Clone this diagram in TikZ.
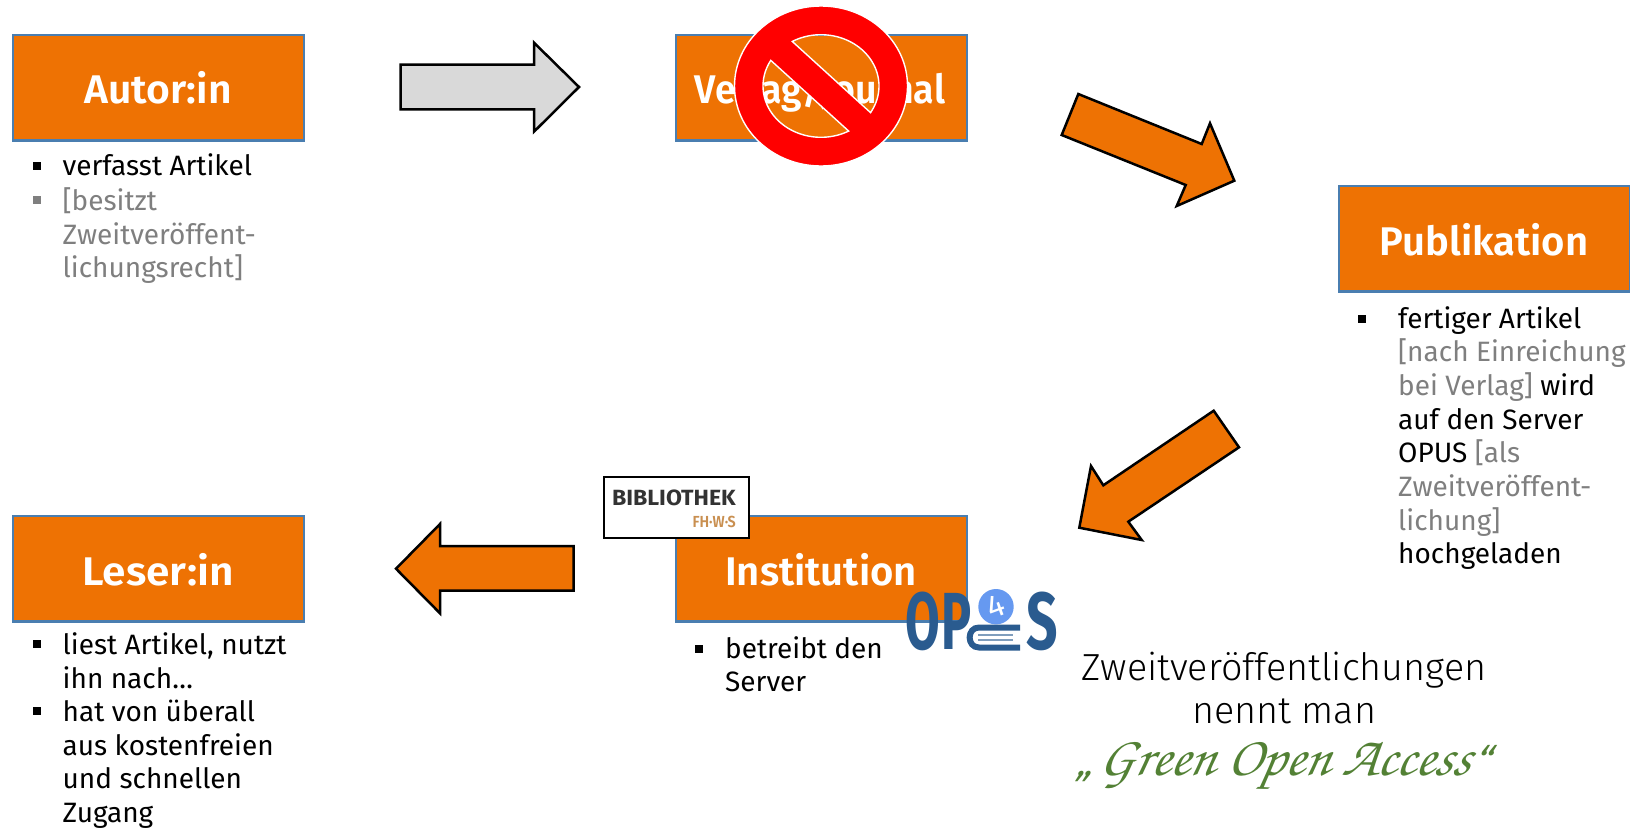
\documentclass[tikz,border=0pt]{standalone}
\usepackage{fontspec}
\setmainfont{Fira Sans}
\newfontfamily\firasemi{Fira Sans SemiBold}
\newfontfamily\firalight{Fira Sans Light}
\definecolor{boxorange}{HTML}{EE7203}
\definecolor{boxblue}{HTML}{4A7EB0}
\definecolor{arrowgray}{HTML}{D9D9D9}
\definecolor{mutetext}{HTML}{7F7F7F}
\definecolor{greenoa}{HTML}{538135}
\definecolor{opusblue}{HTML}{2A5B8F}
\definecolor{opuslight}{HTML}{6699F0}
\definecolor{fhws}{HTML}{C98F50}
\newcommand{\pxfont}[1]{\fontsize{#1}{#1}\selectfont}
\tikzset{
  rolebox/.style={draw=boxblue,line width=2.5pt,fill=boxorange,minimum width=291pt,minimum height=105.5pt,inner sep=0pt,outer sep=0pt,anchor=north west},
  boxtitle/.style={text=white,anchor=base,inner sep=0pt,font=\pxfont{40}\firasemi},
  line/.style={anchor=base west,inner sep=0pt,font=\pxfont{28}},
  muted/.style={line,text=mutetext},
  bul/.style={fill=black,inner sep=0pt,minimum size=8pt,anchor=center},
  blockarrow/.style={draw=black,line width=2.5pt,miter limit=10,line join=miter,fill=boxorange},
}
\begin{document}
\begin{tikzpicture}[x=1pt,y=-1pt]
\useasboundingbox (0,0) rectangle (1630,828);
% boxes
\node[rolebox] (autor) at (13.2,35.2) {};
\node[rolebox] (verlag) at (676.2,35.2) {};
\node[rolebox] (publ) at (1339,186.2) {};
\node[rolebox] (inst) at (676.2,516.2) {};
\node[rolebox] (leser) at (13.2,516.2) {};
\node[boxtitle,xscale=1.02] (tautor) at (158,103) {Autor:in};
\node[boxtitle,xscale=.94] (tverlag) at (820,103) {Verlag/Journal};
\node[boxtitle] (tpubl) at (1484,255) {Publikation};
\node[boxtitle] (tinst) at (821,585) {Institution};
\node[boxtitle,xscale=1.06] (tleser) at (158,585) {Leser:in};
% arrows
\draw[blockarrow,fill=arrowgray] (400.7,64.7) -- (534,64.7) -- (534,42.7) -- (579,87) -- (534,131.7) -- (534,109.3) -- (400.7,109.3) -- cycle;
\draw[blockarrow] (1078.3,94) -- (1061.7,135) -- (1185.7,185) -- (1176.7,206) -- (1234.3,180.7) -- (1210,123.3) -- (1201.7,144) -- cycle;
\draw[blockarrow] (1213.7,410.7) -- (1239,447.3) -- (1128.3,521.7) -- (1141.7,540) -- (1079.3,527.7) -- (1091,466) -- (1103.3,485.3) -- cycle;
\draw[blockarrow] (396,568.7) -- (440,524) -- (440,546) -- (573.7,546) -- (573.7,590.7) -- (440,590.7) -- (440,613.3) -- cycle;
% no symbol
\path[fill=red,even odd rule,draw=white,line width=1.4pt,line join=miter]
  (821,86) ellipse [x radius=86.5,y radius=80]
  plot[domain=-119.7:31.3,samples=50] ({821+58*cos(\x)},{86+51.3*sin(\x)}) -- cycle
  plot[domain=61.5:210,samples=50] ({821+58*cos(\x)},{86+51.3*sin(\x)}) -- cycle;
% Autor text
\node[bul] (b1) at (37,165.5) {};
\node[line] (a1) at (62.5,175.5) {verfasst Artikel};
\node[bul,fill=mutetext] (b2) at (37,199.5) {};
\node[muted] (a2) at (62.5,210) {[besitzt};
\node[muted] (a3) at (62.5,244) {Zweitveröffent-};
\node[muted] (a4) at (62.5,277.5) {lichungsrecht]};
% Publikation text
\node[bul] (b3) at (1361.5,318.5) {};
\node[line] (p1) at (1398,328) {fertiger Artikel};
\node[muted] (p2) at (1398,361.7) {[nach Einreichung};
\node[muted] (p3) at (1398,395.4) {bei Verlag] \textcolor{black}{wird}};
\node[line] (p4) at (1398,429.1) {auf den Server};
\node[line] (p5) at (1398,462.8) {OPUS \textcolor{mutetext}{[als}};
\node[muted] (p6) at (1398,496.5) {Zweitveröffent-};
\node[muted] (p7) at (1398,530.2) {lichung]};
\node[line] (p8) at (1398,563.9) {hochgeladen};
% Institution text
\node[bul] (b4) at (699,649) {};
\node[line] (i1) at (725,658.2) {betreibt den};
\node[line] (i2) at (725,691.5) {Server};
% Leser text
\node[bul] (b5) at (37,644) {};
\node[line] (l1) at (62.5,654) {liest Artikel, nutzt};
\node[line] (l2) at (62.5,688.3) {ihn nach…};
\node[bul] (b6) at (37,711) {};
\node[line] (l3) at (62.5,721.7) {hat von überall};
\node[line] (l4) at (62.5,755) {aus kostenfreien};
\node[line] (l5) at (62.5,788.7) {und schnellen};
\node[line] (l6) at (62.5,822.4) {Zugang};
% Bibliothek logo
\node[draw=black,line width=1.6pt,fill=white,minimum width=145pt,minimum height=61pt,inner sep=0pt,outer sep=0pt,anchor=north west] (biblogo) at (603.8,477) {};
\node[anchor=base east,inner sep=0pt,text=black!80,font=\pxfont{22}\bfseries,xscale=1.05] (bibt) at (736,505) {BIBLIOTHEK};
\node[anchor=base east,inner sep=0pt,text=fhws,font=\pxfont{16}\firasemi,xscale=.9] (bibf) at (736,527) {FH·W·S};
% OPUS logo
\node[anchor=base west,inner sep=0pt,text=opusblue,font=\pxfont{81}\bfseries,xscale=.62] (opusop) at (905,649) {O\kern3pt P};
\node[anchor=base west,inner sep=0pt,text=opusblue,font=\pxfont{81}\bfseries,xscale=.68] (opuss) at (1026.5,649) {S};
\fill[opuslight] (996,606.7) circle [radius=17.7];
\node[text=white,font=\pxfont{32},rotate=20,inner sep=0pt] (opus4) at (996,606) {4};
\draw[opusblue,line width=6pt] (1020,627.5) -- (979,627.5) to[out=180,in=180,looseness=1.6] (979,647.5) -- (1020,647.5);
\draw[opusblue!60,line width=1.2pt] (978,635) -- (1013,635) (978,640) -- (1013,640);
% side text
\node[anchor=base,inner sep=0pt,font=\pxfont{37.7}\firalight] (s1) at (1284,680) {Zweitveröffentlichungen};
\node[anchor=base,inner sep=0pt,font=\pxfont{37.7}\firalight] (s2) at (1284,723) {nennt man};
\node[anchor=base,inner sep=0pt,text=greenoa,xslant=.2] (s3) at (1284,775) {{\itshape\pxfont{40}„}\kern5pt{\fontencoding{T1}\fontfamily{pzc}\fontseries{mb}\fontshape{it}\fontsize{56}{56}\selectfont Green Open Access}\kern5pt{\itshape\pxfont{40}“}};
\end{tikzpicture}
\end{document}
